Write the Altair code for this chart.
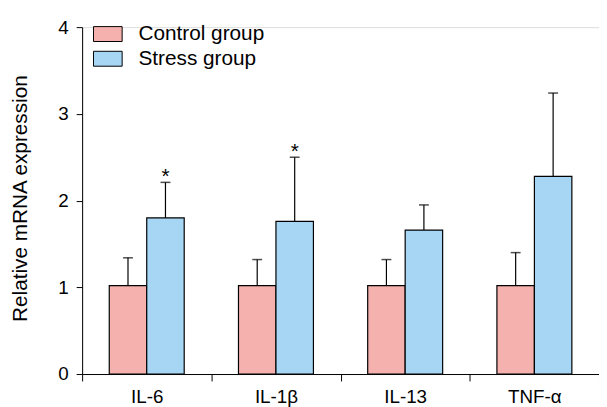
import altair as alt
import pandas as pd

cytokines = ["IL-6", "IL-1β", "IL-13", "TNF-α"]
groups = ["Control group", "Stress group"]
control_mean = [1.02, 1.02, 1.02, 1.02]
control_err_top = [1.34, 1.32, 1.32, 1.40]
stress_mean = [1.80, 1.76, 1.66, 2.28]
stress_err_top = [2.21, 2.50, 1.95, 3.24]
stress_sig = ["*", "*", "", ""]
colors = ["#F4B1AE", "#A6D6F3"]
y_ticks = [0, 1, 2, 3, 4]

rows = []
for i, c in enumerate(cytokines):
    rows.append({"cytokine": c, "group": groups[0], "mean": control_mean[i],
                 "err": control_err_top[i], "sig": ""})
    rows.append({"cytokine": c, "group": groups[1], "mean": stress_mean[i],
                 "err": stress_err_top[i], "sig": stress_sig[i]})
df = pd.DataFrame(rows)

FONT = "Liberation Sans"

x = alt.X("cytokine:N", sort=cytokines,
          scale=alt.Scale(paddingInner=0, paddingOuter=0),
          axis=alt.Axis(title=None, labelAngle=0, tickBand="extent",
                        labelFontSize=19, labelFont=FONT, labelColor="black",
                        labelPadding=7, tickSize=7, tickColor="black",
                        domainColor="black", tickWidth=1, domainWidth=1))
xo = alt.XOffset("group:N", sort=groups,
                 scale=alt.Scale(paddingInner=0, paddingOuter=0.724))
y_scale = alt.Scale(domain=[0, 4], nice=False, zero=True)

bars = alt.Chart(df).mark_bar(stroke="black", strokeWidth=1.2).encode(
    x=x, xOffset=xo,
    y=alt.Y("mean:Q", scale=y_scale,
            axis=alt.Axis(values=y_ticks, format="d",
                          title="Relative mRNA expression",
                          grid=False, labelFontSize=19, labelFont=FONT,
                          labelColor="black", labelPadding=8, tickSize=6,
                          tickColor="black", domainColor="black",
                          titleFont=FONT, titleFontSize=21,
                          titleFontWeight="normal", titleColor="black",
                          titleX=-62, titleY=173, titleAlign="center",
                          titleBaseline="middle", titleAngle=270)),
    color=alt.Color("group:N", sort=groups,
                    scale=alt.Scale(domain=groups, range=colors),
                    legend=alt.Legend(title=None, orient="none", legendX=11,
                                      legendY=-8, padding=0,
                                      symbolType="M-1,-0.52H1V0.52H-1Z",
                                      symbolSize=841, symbolStrokeColor="black",
                                      symbolStrokeWidth=1, symbolOpacity=1,
                                      labelFont=FONT, labelFontSize=21,
                                      labelColor="black", labelOffset=16,
                                      rowPadding=-5)),
)

err = alt.Chart(df).mark_rule(color="black", strokeWidth=1.2).encode(
    x=x, xOffset=xo, y="mean:Q", y2="err:Q")

caps = alt.Chart(df).mark_tick(color="black", orient="horizontal", size=10,
                               thickness=1.5).encode(
    x=x, xOffset=xo, y=alt.Y("err:Q", scale=y_scale))

stars = alt.Chart(df).mark_text(fontSize=21, font=FONT, color="black",
                                baseline="alphabetic", dy=1).encode(
    x=x, xOffset=xo, y=alt.Y("err:Q", scale=y_scale), text="sig:N")

chart = alt.layer(bars, err, caps, stars).properties(
    width=523, height=351,
    autosize=alt.AutoSizeParams(type="none"),
    padding={"left": 75, "top": 17, "right": 0, "bottom": 31},
).configure_view(stroke=None).configure(background="white")

chart.save("out.html", embed_options={"renderer": "svg", "actions": False})
